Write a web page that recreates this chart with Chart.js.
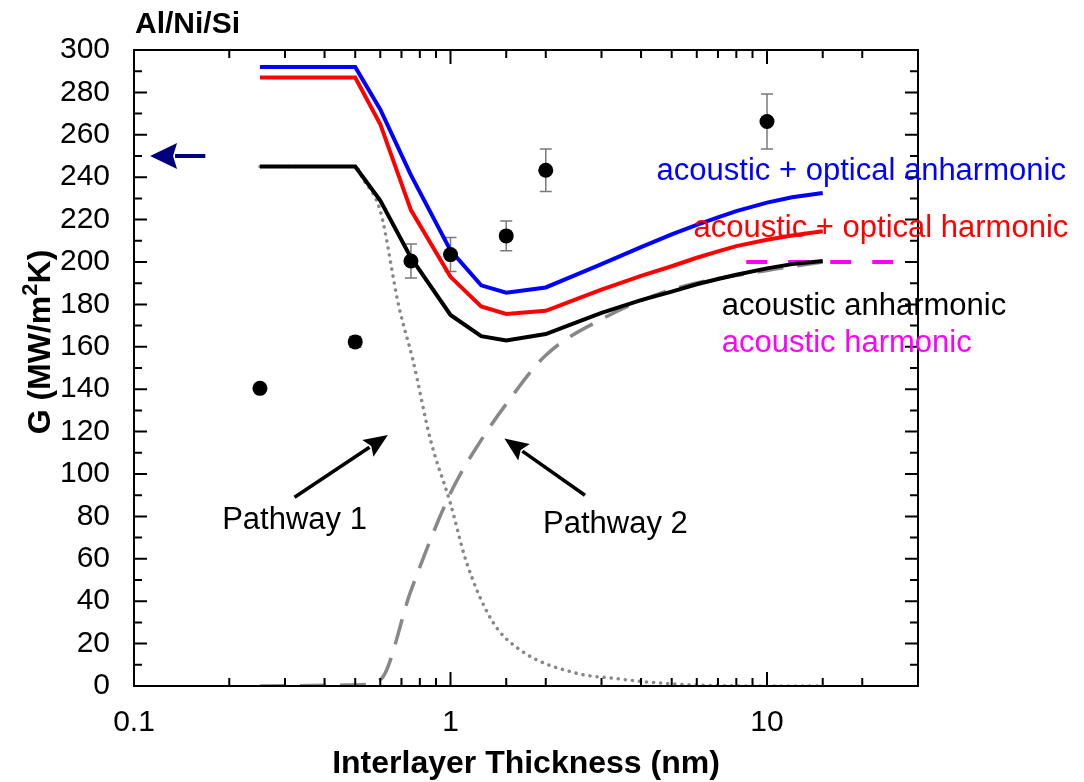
<!DOCTYPE html>
<html>
<head>
<meta charset="utf-8">
<script src="https://cdn.jsdelivr.net/npm/chart.js@4.4.0/dist/chart.umd.min.js"></script>
<style>
  html, body { margin: 0; padding: 0; background: #fff; }
  canvas { display: block; }
</style>
</head>
<body>
<canvas id="chart" width="1084" height="782"></canvas>
<script>
// model curves: G (MW/m^2K) against interlayer thickness (nm)
const modelThickness = [0.25, 0.5, 0.6, 0.75, 1, 1.25, 1.5, 2, 2.5, 3, 4, 5, 6, 7, 8, 10, 12, 15];
const opticalAnharmonic = [292, 292, 272, 241, 205.5, 189, 185.5, 188, 194, 199, 207, 213, 217.5, 221, 224, 228, 230.5, 232.5];
const opticalHarmonic = [287, 287, 265, 224.5, 193, 179, 175.5, 177, 182.5, 187, 193.5, 198, 202, 205, 207.5, 210.5, 212.5, 214.5];
const acousticAnharmonic = [245, 245, 229, 202, 175, 165, 163, 166, 171.5, 176, 182, 186, 189.5, 192, 194, 197, 199, 200.5];

// acoustic harmonic level, shown as a short dashed key
const harmonicThickness = [8.6, 25.5];
const acousticHarmonic = [200, 200];

// the two contributions to the acoustic anharmonic curve
const pathway1Thickness = [0.25, 0.5, 0.53, 0.6, 0.687, 0.76, 0.865, 1, 1.12, 1.35, 1.66, 2.5, 3.2, 5, 10, 15];
const pathway1G = [245, 245, 239, 224, 179, 154, 116, 86, 59, 31, 17, 6, 3.8, 1, 0, 0];
const pathway2Thickness = [0.25, 0.5, 0.6, 0.75, 1, 1.25, 1.5, 2, 3, 5, 10, 15];
const pathway2G = [0, 0.5, 3, 45, 91, 116, 133, 156, 173, 187, 196, 200];

// measurements with error bars
const measuredThickness = [0.25, 0.5, 0.75, 1, 1.5, 2, 10];
const measuredG = [140.4, 162.3, 200.5, 203.5, 212.3, 243.3, 266.3];
const measuredErr = [0, 2.5, 8, 8, 7, 10, 13];

const xTickLabels = [0.1, 1, 10];
const yTickLabels = [0, 20, 40, 60, 80, 100, 120, 140, 160, 180, 200, 220, 240, 260, 280, 300];

const FONT = "'Liberation Sans', Arial, sans-serif";

const pts = (xs, ys) => xs.map((x, i) => ({ x, y: ys[i] }));

// text and arrows placed in data coordinates
const curveNotes = [
  { text: 'acoustic + optical anharmonic', x: 4.48, y: 242.5, color: '#0000ff' },
  { text: 'acoustic + optical harmonic', x: 5.86, y: 215.6, color: '#ff0000' },
  { text: 'acoustic anharmonic', x: 7.2, y: 179, color: '#000000' },
  { text: 'acoustic harmonic', x: 7.2, y: 161.8, color: '#ff00ff' }
];
const pathwayNotes = [
  { text: 'Pathway 1', x: 0.3215, y: 78, from: [0.3215, 89], to: [0.634, 118.4] },
  { text: 'Pathway 2', x: 3.32, y: 76, from: [2.66, 90], to: [1.48, 116.8] }
];
const bulkMarker = { from: [0.168, 250], to: [0.1124, 250] };

function arrow(ctx, x0, y0, x1, y1, headLen, headHalf, color, width) {
  const ang = Math.atan2(y1 - y0, x1 - x0);
  const bx = x1 - headLen * Math.cos(ang);
  const by = y1 - headLen * Math.sin(ang);
  ctx.strokeStyle = color;
  ctx.fillStyle = color;
  ctx.lineWidth = width;
  ctx.beginPath();
  ctx.moveTo(x0, y0);
  ctx.lineTo(bx + 2 * Math.cos(ang), by + 2 * Math.sin(ang));
  ctx.stroke();
  ctx.beginPath();
  ctx.moveTo(x1, y1);
  ctx.lineTo(bx - headHalf * Math.sin(ang), by + headHalf * Math.cos(ang));
  ctx.lineTo(bx + 4 * Math.cos(ang), by + 4 * Math.sin(ang));
  ctx.lineTo(bx + headHalf * Math.sin(ang), by - headHalf * Math.cos(ang));
  ctx.closePath();
  ctx.fill();
}

const decorations = {
  id: 'decorations',
  beforeDatasetsDraw(chart) {
    // error bars go under the dots
    const { ctx, scales: { x, y } } = chart;
    ctx.save();
    ctx.strokeStyle = '#7a7a7a';
    ctx.lineWidth = 1.5;
    measuredThickness.forEach((t, i) => {
      const e = measuredErr[i];
      if (!e) return;
      const px = x.getPixelForValue(t);
      const top = y.getPixelForValue(measuredG[i] + e);
      const bot = y.getPixelForValue(measuredG[i] - e);
      ctx.beginPath();
      ctx.moveTo(px, top); ctx.lineTo(px, bot);
      ctx.moveTo(px - 6, top); ctx.lineTo(px + 6, top);
      ctx.moveTo(px - 6, bot); ctx.lineTo(px + 6, bot);
      ctx.stroke();
    });
    ctx.restore();
  },
  afterDraw(chart) {
    const { ctx, chartArea: a, scales: { x, y } } = chart;
    ctx.save();

    // box and inward ticks on all four sides
    ctx.strokeStyle = '#000';
    ctx.lineWidth = 2;
    ctx.strokeRect(a.left, a.top, a.right - a.left, a.bottom - a.top);
    ctx.beginPath();
    x.ticks.forEach(t => {
      const px = x.getPixelForValue(t.value);
      if (px <= a.left + 1 || px >= a.right - 1) return;
      const lg = Math.log10(t.value);
      const len = Math.abs(lg - Math.round(lg)) < 1e-6 ? 14 : 8;
      ctx.moveTo(px, a.bottom); ctx.lineTo(px, a.bottom - len);
      ctx.moveTo(px, a.top); ctx.lineTo(px, a.top + len);
    });
    y.ticks.forEach(t => {
      const py = y.getPixelForValue(t.value);
      if (py <= a.top + 1 || py >= a.bottom - 1) return;
      const len = yTickLabels.includes(t.value) ? 13 : 8;
      ctx.moveTo(a.left, py); ctx.lineTo(a.left + len, py);
      ctx.moveTo(a.right, py); ctx.lineTo(a.right - len, py);
    });
    ctx.stroke();

    // titles
    ctx.fillStyle = '#000';
    ctx.font = `bold 30px ${FONT}`;
    ctx.textAlign = 'left';
    ctx.textBaseline = 'alphabetic';
    ctx.fillText('Al/Ni/Si', a.left + 1, 33);

    ctx.font = `bold 32px ${FONT}`;
    ctx.textAlign = 'center';
    ctx.fillText('Interlayer Thickness (nm)', (a.left + a.right) / 2, a.bottom + 87);

    // rotated y title with a raised 2
    ctx.save();
    ctx.translate(50, 342);
    ctx.rotate(-Math.PI / 2);
    ctx.textAlign = 'left';
    const p1 = 'G (MW/m', p2 = '2', p3 = 'K)';
    ctx.font = `bold 32px ${FONT}`;
    const w1 = ctx.measureText(p1).width, w3 = ctx.measureText(p3).width;
    ctx.font = `bold 22px ${FONT}`;
    const w2 = ctx.measureText(p2).width;
    let cx = -(w1 + w2 + w3) / 2;
    ctx.font = `bold 32px ${FONT}`;
    ctx.fillText(p1, cx, 0);
    cx += w1;
    ctx.font = `bold 22px ${FONT}`;
    ctx.fillText(p2, cx, -13);
    cx += w2;
    ctx.font = `bold 32px ${FONT}`;
    ctx.fillText(p3, cx, 0);
    ctx.restore();

    // curve names
    ctx.font = `31px ${FONT}`;
    ctx.textAlign = 'left';
    ctx.textBaseline = 'middle';
    curveNotes.forEach(n => {
      ctx.fillStyle = n.color;
      ctx.fillText(n.text, x.getPixelForValue(n.x), y.getPixelForValue(n.y));
    });

    // pathway labels and arrows
    ctx.textAlign = 'center';
    pathwayNotes.forEach(n => {
      ctx.fillStyle = '#000';
      ctx.fillText(n.text, x.getPixelForValue(n.x), y.getPixelForValue(n.y));
      arrow(ctx,
        x.getPixelForValue(n.from[0]), y.getPixelForValue(n.from[1]),
        x.getPixelForValue(n.to[0]), y.getPixelForValue(n.to[1]),
        24, 10, '#000', 3.5);
    });

    // bulk value marker on the G axis
    arrow(ctx,
      x.getPixelForValue(bulkMarker.from[0]), y.getPixelForValue(bulkMarker.from[1]),
      x.getPixelForValue(bulkMarker.to[0]), y.getPixelForValue(bulkMarker.to[1]),
      27, 13, '#00007f', 4);

    ctx.restore();
  }
};

const ctx = document.getElementById('chart').getContext('2d');

new Chart(ctx, {
  type: 'line',
  data: {
    datasets: [
      {
        label: 'measured',
        data: pts(measuredThickness, measuredG),
        showLine: false,
        pointRadius: 7.5,
        pointBackgroundColor: '#000',
        pointBorderWidth: 0
      },
      {
        label: 'acoustic + optical anharmonic',
        data: pts(modelThickness, opticalAnharmonic),
        borderColor: '#0000ff',
        borderWidth: 4,
        pointRadius: 0
      },
      {
        label: 'acoustic + optical harmonic',
        data: pts(modelThickness, opticalHarmonic),
        borderColor: '#ff0000',
        borderWidth: 4,
        pointRadius: 0
      },
      {
        label: 'acoustic anharmonic',
        data: pts(modelThickness, acousticAnharmonic),
        borderColor: '#000000',
        borderWidth: 4,
        pointRadius: 0
      },
      {
        label: 'acoustic harmonic',
        data: pts(harmonicThickness, acousticHarmonic),
        borderColor: '#ff00ff',
        borderWidth: 4,
        borderDash: [21, 21],
        pointRadius: 0
      },
      {
        label: 'pathway 2',
        data: pts(pathway2Thickness, pathway2G),
        borderColor: '#888888',
        borderWidth: 3.5,
        borderDash: [26, 14],
        cubicInterpolationMode: 'monotone',
        pointRadius: 0
      },
      {
        label: 'pathway 1',
        data: pts(pathway1Thickness, pathway1G),
        borderColor: '#888888',
        borderWidth: 3.5,
        borderDash: [0.1, 7],
        borderCapStyle: 'round',
        cubicInterpolationMode: 'monotone',
        pointRadius: 0
      }
    ]
  },
  options: {
    responsive: false,
    animation: false,
    devicePixelRatio: 1,
    layout: { padding: { left: 0, top: 50, right: 166, bottom: 0 } },
    plugins: {
      legend: { display: false },
      tooltip: { enabled: false }
    },
    scales: {
      x: {
        type: 'logarithmic',
        min: 0.1,
        max: 30,
        grid: { display: false },
        border: { display: false },
        ticks: {
          autoSkip: false,
          maxRotation: 0,
          padding: 11,
          color: '#000',
          font: { family: FONT, size: 30 },
          callback: v => xTickLabels.includes(v) ? String(v) : ''
        },
        afterFit: s => { s.height = 96; }
      },
      y: {
        min: 0,
        max: 300,
        grid: { display: false },
        border: { display: false },
        ticks: {
          stepSize: 10,
          autoSkip: false,
          padding: 16,
          color: '#000',
          font: { family: FONT, size: 30 },
          callback: v => yTickLabels.includes(v) ? String(v) : ''
        },
        afterFit: s => { s.width = 134; }
      }
    }
  },
  plugins: [decorations]
});
</script>
</body>
</html>
